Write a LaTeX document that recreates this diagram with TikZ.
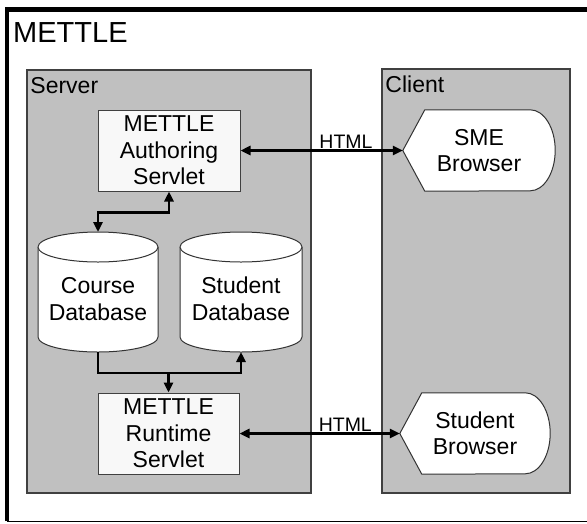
\documentclass[tikz,border=0pt]{standalone}
\usepackage{fontspec}
\setmainfont{Liberation Sans}
\usepackage{xcolor}
\usepackage{tikz}
\usetikzlibrary{arrows.meta,positioning,calc}
\definecolor{panelGray}{HTML}{C0C0C0}
\definecolor{edgeGray}{HTML}{404040}
\definecolor{boxWhite}{HTML}{F8F8F8}
\pgfdeclarelayer{back}
\pgfdeclarelayer{mid}
\pgfsetlayers{back,mid,main}
% cylinder round a database node: #1 node, #2 x radius
\newcommand{\dbshape}[2]{%
  \path (#1.center) ++(0,-52) coordinate (#1-t) ++(0,90) coordinate (#1-b);
  \draw[shapeline] ($(#1-t)+(-#2,0)$) -- ($(#1-b)+(-#2,0)$)
    arc[start angle=180,end angle=0,x radius=#2,y radius=15]
    -- ($(#1-t)+(#2,0)$)
    arc[start angle=0,end angle=-180,x radius=#2,y radius=15] -- cycle;
  \draw[shapeline] ($(#1-t)+(-#2,0)$)
    arc[start angle=180,end angle=0,x radius=#2,y radius=15];}
% display outline round a browser node
\newcommand{\browsershape}[1]{%
  \draw[shapeline] (#1.west) -- ([xshift=22pt]#1.north west)
    -- ([xshift=-25pt]#1.north east)
    arc[start angle=-90,end angle=90,x radius=25,y radius=40.5]
    -- ([xshift=22pt]#1.south west) -- cycle;}

\begin{document}
\begin{tikzpicture}[x=1pt, y=-1pt, >={Triangle[length=10pt,width=9pt]},
  font=\fontsize{23}{26.5}\selectfont,
  region/.style={draw=edgeGray,line width=1.5pt,fill=panelGray,inner sep=0pt},
  regionlbl/.style={anchor=base west,inner sep=0pt},
  servlet/.style={draw=edgeGray,line width=1pt,fill=boxWhite,align=center,
    minimum width=142pt,minimum height=81pt,inner sep=0pt},
  dbtext/.style={align=center,inner sep=0pt},
  browser/.style={align=center,minimum width=152pt,minimum height=81pt,inner sep=0pt},
  shapeline/.style={draw=black!80,line width=1pt,fill=white},
  link/.style={line width=2.5pt},
  proto/.style={above,inner sep=1pt,font=\fontsize{19.5}{22}\selectfont}]
\useasboundingbox (0,0) rectangle (587,523);
\clip (0,0) rectangle (587,523);
% frame and the two sides
\begin{pgfonlayer}{back}
  \draw[line width=1pt] (7,521) -- (600,521);
  \draw[line width=4.5pt] (7,521) |- (600,9.5);
  \node[region,minimum width=284pt,minimum height=423pt] (server) at (169,281.5) {};
  \node[region,minimum width=188pt,minimum height=424pt] (client) at (476,281) {};
\end{pgfonlayer}
\node[anchor=base west,inner sep=0pt,font=\fontsize{29}{32}\selectfont] (title) at (13,42) {METTLE};
\node[regionlbl] (serverlbl) at ([shift={(4,24)}]server.north west) {Server};
\node[regionlbl] (clientlbl) at ([shift={(4,24)}]client.north west) {Client};
% servlets and stores
\node[servlet] (auth) at (169,150.5) {METTLE\\Authoring\\Servlet};
\node[servlet,minimum width=141pt] (runtime) at (168.5,433.5) {METTLE\\Runtime\\Servlet};
\node[dbtext] (course) at (98,299) {Course\\Database};
\node[dbtext] (student) at (241,299) {Student\\Database};
\node[browser] (sme) at (479,150.5) {SME\\Browser};
\node[browser,minimum width=150pt] (stud) at (475,433.5) {Student\\Browser};
\begin{pgfonlayer}{mid}
  \dbshape{course}{60}
  \dbshape{student}{61}
  \browsershape{sme}
  \browsershape{stud}
\end{pgfonlayer}
\coordinate (course-top) at ($(course-t)+(0,-15)$);
\coordinate (course-bottom) at ($(course-b)+(0,15)$);
\coordinate (student-bottom) at ($(student-b)+(0,15)$);
% connections
\draw[link,<->] (auth.south) -- ++(0,21) -| (course-top);
\draw[link,->] (course-bottom) -- ++(0,21) coordinate (split) -| (student-bottom);
\draw[link,->] (split -| runtime.north) -- (runtime.north);
\draw[link,<->] (auth.east) -- node[proto,pos=0.65]{HTML} (sme.west);
\draw[link,<->] (runtime.east) -- node[proto,pos=0.66]{HTML} (stud.west);
\end{tikzpicture}
\end{document}
